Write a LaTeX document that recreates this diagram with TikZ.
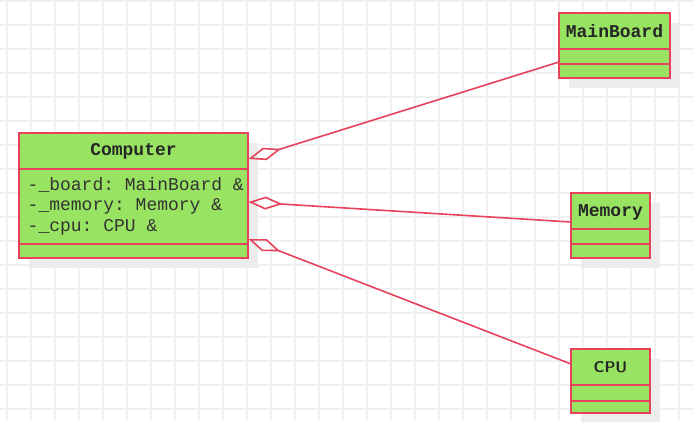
\documentclass[tikz,border=0pt]{standalone}
\usepackage{fontspec}
\setmainfont{Liberation Sans}
\setmonofont{Liberation Mono}
\usetikzlibrary{arrows.meta}
\definecolor{boxfill}{RGB}{152,228,98}
\definecolor{boxline}{RGB}{230,66,92}
\definecolor{gridc}{RGB}{241,241,241}
\definecolor{shadowc}{RGB}{236,236,236}
\tikzset{
  classbox/.style={draw=boxline, fill=boxfill, line width=1.5pt, inner sep=0pt, rectangle},
  shadowbox/.style={fill=shadowc, draw=none},
  sepline/.style={draw=boxline, line width=1.5pt},
  titletext/.style={font=\ttfamily\bfseries\fontsize{18}{21}\selectfont, inner sep=0pt, text=black!85},
  sanstitle/.style={font=\sffamily\bfseries\fontsize{15.5}{18}\selectfont, inner sep=0pt, text=black!85},
  attrtext/.style={font=\ttfamily\fontsize{18}{21}\selectfont, inner sep=0pt, anchor=west, text=black!80},
  aggr/.style={draw=boxline, line width=1.6pt, {Diamond[open, length=34pt, width=13pt, line width=1.6pt]}-},
}
\begin{document}
\begin{tikzpicture}[x=1pt,y=-1pt]
\useasboundingbox (0,0) rectangle (694,421);
\fill[white] (0,0) rectangle (694,421);
% grid
\foreach \x in {7,31,...,694} \draw[gridc, line width=1.1pt] (\x,0) -- (\x,421);
\foreach \y in {1,25,...,421} \draw[gridc, line width=1.1pt] (0,\y) -- (694,\y);
% shadows
\fill[shadowc] (29,143) rectangle (258,268);
\fill[shadowc] (569,23) rectangle (680,88);
\fill[shadowc] (581,203) rectangle (660,268);
\fill[shadowc] (581,359) rectangle (660,423);
% Computer
\node[classbox, minimum width=229pt, minimum height=125pt] (comp) at (133.5,195.5) {};
\draw[sepline] (19,169) -- (248,169);
\draw[sepline] (19,244) -- (248,244);
\node[titletext] (compt) at (133.5,151) {Computer};
\node[attrtext] (a1) at (27.5,185) {-\_board: MainBoard \&};
\node[attrtext] (a2) at (27.5,206) {-\_memory: Memory \&};
\node[attrtext] (a3) at (27.5,227) {-\_cpu: CPU \&};
% MainBoard
\node[classbox, minimum width=111pt, minimum height=65pt] (mb) at (614.5,45.5) {};
\draw[sepline] (559,49) -- (670,49);
\draw[sepline] (559,64) -- (670,64);
\node[titletext] (mbt) at (614.5,31) {MainBoard};
% Memory
\node[classbox, minimum width=79pt, minimum height=65pt] (mem) at (610.5,225.5) {};
\draw[sepline] (571,229) -- (650,229);
\draw[sepline] (571,244) -- (650,244);
\node[titletext] (memt) at (610.5,212) {Memory};
% CPU
\node[classbox, minimum width=79pt, minimum height=64pt] (cpu) at (610.5,381) {};
\draw[sepline] (571,385) -- (650,385);
\draw[sepline] (571,401) -- (650,401);
\node[sanstitle] (cput) at (610.5,367) {CPU};
% connector endpoints
\coordinate (s1) at (248.5,159);
\coordinate (s2) at (248.5,202);
\coordinate (s3) at (248.5,239);
\coordinate (e1) at (559,62);
\coordinate (e2) at (571,222);
\coordinate (e3) at (571,364);
\draw[aggr] (s1) -- (e1);
\draw[aggr] (s2) -- (e2);
\draw[aggr] (s3) -- (e3);
\end{tikzpicture}
\end{document}
